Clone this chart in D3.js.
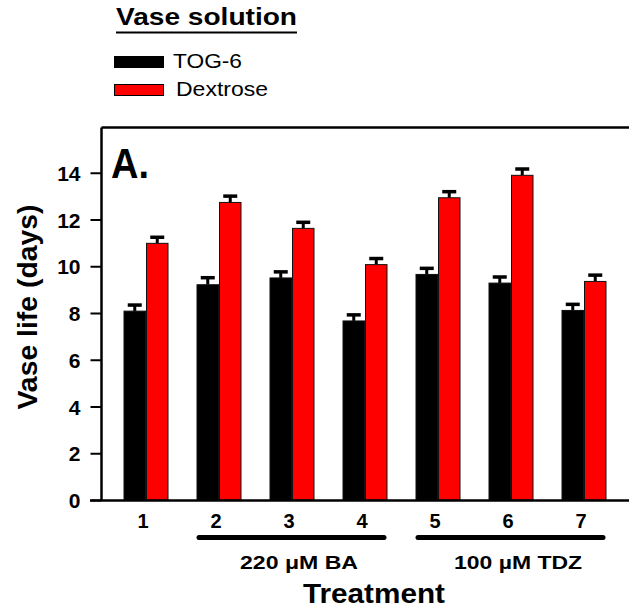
<!DOCTYPE html>
<html>
<head>
<meta charset="utf-8">
<script src="https://cdn.jsdelivr.net/npm/d3@7"></script>
<style>
  html, body { margin: 0; padding: 0; background: #fff; }
  svg { display: block; font-family: "Liberation Sans", Arial, Helvetica, sans-serif; }
</style>
</head>
<body>
<svg id="chart" width="629" height="610"></svg>
<script>
// Vase life of cut stems by treatment and vase solution
const treatments = ["1", "2", "3", "4", "5", "6", "7"];
const seriesNames = ["TOG-6", "Dextrose"];
const seriesColors = ["#000000", "#ff0000"];
const tog6 = [8.08, 9.21, 9.50, 7.66, 9.65, 9.28, 8.11];
const tog6Err = [0.26, 0.30, 0.26, 0.26, 0.26, 0.26, 0.26];
const dextrose = [10.98, 12.73, 11.62, 10.07, 12.93, 13.89, 9.35];
const dextroseErr = [0.26, 0.27, 0.26, 0.26, 0.26, 0.27, 0.27];
const yTicks = [0, 2, 4, 6, 8, 10, 12, 14];
const groups = [
  { label: "220 \u03bcM BA", from: "2", to: "4", mid: "3", len: 118 },
  { label: "100 \u00b5M TDZ", from: "5", to: "7", mid: "6", len: 128 }
];

const svg = d3.select("#chart");

const plotLeft = 101.5, plotTop = 127.5, plotBottom = 500.5, plotRight = 640;

const x = d3.scaleBand().domain(treatments).range([109.5, 620.5]).padding(0);
const xInner = d3.scaleBand().domain(seriesNames).range([14, 59]).padding(0);
const y = d3.scaleLinear().domain([0, 16]).range([500, 126]);

const cx = c => x(c) + x.bandwidth() / 2;

// Legend
svg.append("text")
  .attr("x", 116).attr("y", 25)
  .attr("font-size", 24).attr("font-weight", "bold")
  .attr("textLength", 181).attr("lengthAdjust", "spacingAndGlyphs")
  .text("Vase solution");
svg.append("line")
  .attr("x1", 116).attr("x2", 297).attr("y1", 32.5).attr("y2", 32.5)
  .attr("stroke", "#000").attr("stroke-width", 2);

const legendRows = [
  { name: seriesNames[0], color: seriesColors[0], y: 56, tx: 173, tl: 69 },
  { name: seriesNames[1], color: seriesColors[1], y: 84, tx: 176, tl: 92 }
];
legendRows.forEach(r => {
  svg.append("rect")
    .attr("x", 114.5).attr("y", r.y + 0.5).attr("width", 49).attr("height", 11)
    .attr("fill", r.color).attr("stroke", "#000").attr("stroke-width", 1);
  svg.append("text")
    .attr("x", r.tx).attr("y", r.y + 12)
    .attr("font-size", 21)
    .attr("textLength", r.tl).attr("lengthAdjust", "spacingAndGlyphs")
    .text(r.name);
});

// Bars
const rows = treatments.map((t, i) => ({
  t,
  vals: [
    { s: seriesNames[0], v: tog6[i], e: tog6Err[i], c: seriesColors[0] },
    { s: seriesNames[1], v: dextrose[i], e: dextroseErr[i], c: seriesColors[1] }
  ]
}));

const g = svg.append("g");
const grp = g.selectAll("g.grp").data(rows).join("g")
  .attr("class", "grp")
  .attr("transform", d => `translate(${x(d.t)},0)`);

// Error bars (upper only)
grp.selectAll("line.stem").data(d => d.vals).join("line")
  .attr("class", "stem")
  .attr("x1", d => xInner(d.s) + xInner.bandwidth() / 2)
  .attr("x2", d => xInner(d.s) + xInner.bandwidth() / 2)
  .attr("y1", d => y(d.v))
  .attr("y2", d => y(d.v + d.e))
  .attr("stroke", "#000").attr("stroke-width", 3);
grp.selectAll("line.cap").data(d => d.vals).join("line")
  .attr("class", "cap")
  .attr("x1", d => xInner(d.s) + xInner.bandwidth() / 2 - 7)
  .attr("x2", d => xInner(d.s) + xInner.bandwidth() / 2 + 7)
  .attr("y1", d => y(d.v + d.e))
  .attr("y2", d => y(d.v + d.e))
  .attr("stroke", "#000").attr("stroke-width", 3.5);

grp.selectAll("rect").data(d => d.vals).join("rect")
  .attr("x", d => xInner(d.s) + 0.5)
  .attr("width", xInner.bandwidth() - 1)
  .attr("y", d => y(d.v))
  .attr("height", d => y(0) - y(d.v))
  .attr("fill", d => d.c)
  .attr("stroke", "#111").attr("stroke-width", 1);

// Frame: top edge, left axis, bottom axis
svg.append("line")
  .attr("x1", plotLeft).attr("x2", plotRight).attr("y1", plotTop).attr("y2", plotTop)
  .attr("stroke", "#000").attr("stroke-width", 2.5);
svg.append("line")
  .attr("x1", 90).attr("x2", plotRight).attr("y1", plotBottom).attr("y2", plotBottom)
  .attr("stroke", "#000").attr("stroke-width", 2.5);

const yAxis = svg.append("g")
  .attr("transform", `translate(${plotLeft},0)`)
  .call(d3.axisLeft(y).tickValues(yTicks).tickSize(11).tickPadding(10).tickFormat(d3.format("d")));
yAxis.select(".domain")
  .attr("d", `M0,${plotTop}V${plotBottom}`)
  .attr("stroke", "#000").attr("stroke-width", 2.5);
yAxis.selectAll(".tick line").attr("stroke", "#000").attr("stroke-width", 2);
yAxis.selectAll(".tick text")
  .attr("font-size", 21).attr("font-weight", "bold").attr("fill", "#000")
  .attr("font-family", "Liberation Sans, Arial, sans-serif")
  .attr("dy", "0.36em");

// Panel letter
svg.append("text")
  .attr("x", 111).attr("y", 178)
  .attr("font-size", 43).attr("font-weight", "bold")
  .attr("textLength", 38).attr("lengthAdjust", "spacingAndGlyphs")
  .text("A.");

// Y axis title
svg.append("text")
  .attr("transform", "translate(37,307) rotate(-90)")
  .attr("text-anchor", "middle")
  .attr("font-size", 28).attr("font-weight", "bold")
  .attr("textLength", 205).attr("lengthAdjust", "spacingAndGlyphs")
  .text("Vase life (days)");

// Treatment labels
svg.selectAll("text.xl").data(treatments).join("text")
  .attr("class", "xl")
  .attr("x", d => cx(d) - 3)
  .attr("y", 528)
  .attr("text-anchor", "middle")
  .attr("font-size", 20).attr("font-weight", "bold")
  .text(d => d);

// Hormone group brackets
groups.forEach(gr => {
  svg.append("line")
    .attr("x1", cx(gr.from) - 20).attr("x2", cx(gr.to) + 19)
    .attr("y1", 537.5).attr("y2", 537.5)
    .attr("stroke", "#000").attr("stroke-width", 5).attr("stroke-linecap", "round");
  svg.append("text")
    .attr("x", cx(gr.mid) + 7).attr("y", 569)
    .attr("text-anchor", "middle")
    .attr("font-size", 19).attr("font-weight", "bold")
    .attr("textLength", gr.len).attr("lengthAdjust", "spacingAndGlyphs")
    .text(gr.label);
});

// X axis title
svg.append("text")
  .attr("x", 374).attr("y", 603)
  .attr("text-anchor", "middle")
  .attr("font-size", 28).attr("font-weight", "bold")
  .attr("textLength", 142).attr("lengthAdjust", "spacingAndGlyphs")
  .text("Treatment");
</script>
</body>
</html>
